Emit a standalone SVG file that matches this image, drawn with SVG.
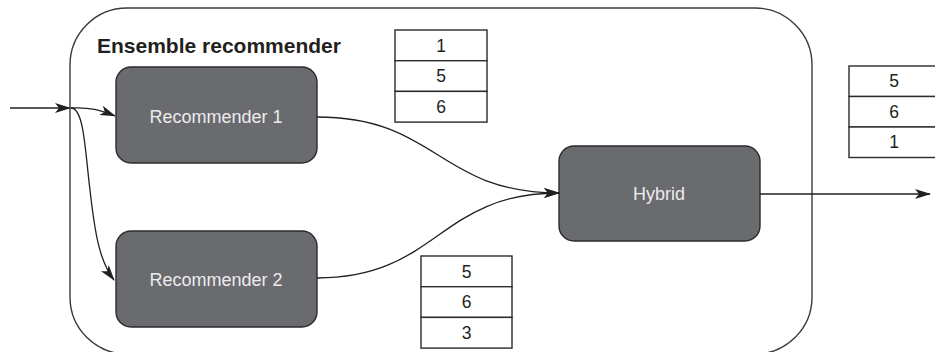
<svg xmlns="http://www.w3.org/2000/svg" width="935" height="352" viewBox="0 0 935 352">
  <defs>
    <marker id="arr" viewBox="0 0 16 10" refX="15" refY="5" markerWidth="16" markerHeight="10" markerUnits="userSpaceOnUse" orient="auto">
      <path d="M0,0 L16,5 L0,10 L4,5 Z" fill="#231f20"/>
    </marker>
    <style>
      .frame { fill: none; stroke: #3a3a3a; stroke-width: 1.4; }
      .node rect { fill: #6a6b6f; stroke: #2b2b2b; stroke-width: 1.4; }
      .node text { fill: #ececec; font-family: "Liberation Sans", Arial, sans-serif; font-size: 18px; text-anchor: middle; }
      .title { fill: #231f20; font-family: "Liberation Sans", Arial, sans-serif; font-size: 21px; font-weight: bold; }
      .tbl rect { fill: #ffffff; stroke: #2b2b2b; stroke-width: 1.4; }
      .tbl text { fill: #231f20; font-family: "Liberation Sans", Arial, sans-serif; font-size: 17.5px; text-anchor: middle; }
      .conn path { fill: none; stroke: #231f20; stroke-width: 1.3; marker-end: url(#arr); }
    </style>
  </defs>
  <rect width="935" height="352" fill="#ffffff"/>

  <g id="ensemble">
    <rect class="frame" x="70" y="8" width="742" height="346" rx="57" ry="57"/>
    <text class="title" x="97" y="53">Ensemble recommender</text>
  </g>

  <g id="rec1" class="node">
    <rect x="116" y="67" width="201" height="96" rx="15" ry="15"/>
    <text x="216" y="123">Recommender 1</text>
  </g>

  <g id="rec2" class="node">
    <rect x="116" y="231" width="201" height="96" rx="15" ry="15"/>
    <text x="216" y="286">Recommender 2</text>
  </g>

  <g id="hybrid" class="node">
    <rect x="559" y="146" width="201" height="95" rx="15" ry="15"/>
    <text x="659" y="200">Hybrid</text>
  </g>

  <g id="list1" class="tbl">
    <rect x="395" y="30" width="92" height="30.7"/>
    <rect x="395" y="60.7" width="92" height="30.7"/>
    <rect x="395" y="91.4" width="92" height="30.7"/>
    <text x="441" y="51.5">1</text>
    <text x="441" y="82.2">5</text>
    <text x="441" y="112.9">6</text>
  </g>

  <g id="list2" class="tbl">
    <rect x="421" y="256" width="91" height="30.7"/>
    <rect x="421" y="286.7" width="91" height="30.7"/>
    <rect x="421" y="317.4" width="91" height="30.7"/>
    <text x="466.5" y="277.5">5</text>
    <text x="466.5" y="308.2">6</text>
    <text x="466.5" y="338.9">3</text>
  </g>

  <g id="list3" class="tbl">
    <rect x="849" y="66" width="91" height="30.5"/>
    <rect x="849" y="96.5" width="91" height="30.5"/>
    <rect x="849" y="127" width="91" height="30.5"/>
    <text x="894" y="87.3">5</text>
    <text x="894" y="117.8">6</text>
    <text x="894" y="148.3">1</text>
  </g>

  <g id="connectors" class="conn">
    <path d="M10,108 L70,108"/>
    <path d="M71,108 C90,107 100,110 115,116"/>
    <path d="M71,108 C84,108 85,150 90,190 C95,235 100,262 114,280"/>
    <path d="M317,117 C438,117 438,193 559,193"/>
    <path d="M317,278 C438,278 438,193 559,193"/>
    <path d="M760,194 L930,194"/>
  </g>
</svg>
